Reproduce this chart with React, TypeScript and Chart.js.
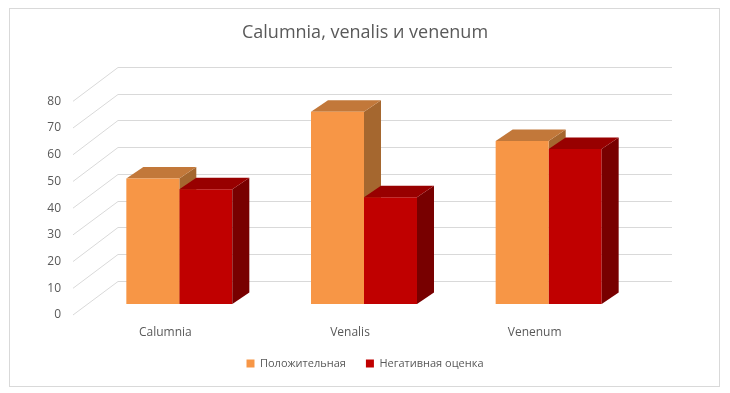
import React, { useEffect, useRef } from "react";
import { Chart, registerables } from "chart.js";

Chart.register(...registerables);

// ---- data ----
const categories = ["Calumnia", "Venalis", "Venenum"];
const seriesNames = ["Положительная", "Негативная оценка"];
const positiveValues = [47, 72, 61];
const negativeValues = [43, 40, 58];
const yMin = 0;
const yMax = 80;
const yStep = 10;
const titleText = "Calumnia, venalis и venenum";

// ---- style ----
const frontColors = ["#F79646", "#C00000"];
const topColors = ["#C2783A", "#980000"];
const sideColors = ["#A5672F", "#780000"];
const gridColor = "#D9D9D9";
const textColor = "#595959";
const BACK = { dx: 31, dy: -23.3 };
const DEPTH = { dx: 17, dy: -11.5 };
const FRONT = { dx: -14, dy: 11 };

function drawFaces(chart: any, dsIndex: number) {
  const ctx = chart.ctx;
  const meta = chart.getDatasetMeta(dsIndex);
  ctx.save();
  meta.data.forEach((el: any) => {
    const p = el.getProps(["x", "y", "base", "width"], true);
    const xl = p.x - p.width / 2;
    const xr = p.x + p.width / 2;
    const yt = p.y;
    const yb = p.base;
    // side face
    ctx.fillStyle = sideColors[dsIndex];
    ctx.beginPath();
    ctx.moveTo(xr, yt);
    ctx.lineTo(xr + DEPTH.dx, yt + DEPTH.dy);
    ctx.lineTo(xr + DEPTH.dx, yb + DEPTH.dy);
    ctx.lineTo(xr, yb);
    ctx.closePath();
    ctx.fill();
    // top face
    ctx.fillStyle = topColors[dsIndex];
    ctx.beginPath();
    ctx.moveTo(xl, yt);
    ctx.lineTo(xl + DEPTH.dx, yt + DEPTH.dy);
    ctx.lineTo(xr + DEPTH.dx, yt + DEPTH.dy);
    ctx.lineTo(xr, yt);
    ctx.closePath();
    ctx.fill();
  });
  ctx.restore();
}

const threeD = {
  id: "threeD",
  beforeDatasetsDraw(chart: any) {
    const { ctx, chartArea: a, scales } = chart;
    const y = scales.y;
    ctx.save();
    ctx.strokeStyle = gridColor;
    ctx.lineWidth = 1;
    y.ticks.forEach((t: any) => {
      const py = y.getPixelForValue(t.value);
      const by = Math.round(py + BACK.dy) + 0.5;
      ctx.beginPath();
      ctx.moveTo(a.left + FRONT.dx, py + FRONT.dy);
      ctx.lineTo(a.left + BACK.dx, by);
      ctx.lineTo(a.right + BACK.dx, by);
      ctx.stroke();
    });
    ctx.restore();
    drawFaces(chart, 0);
  },
  afterDatasetsDraw(chart: any) {
    drawFaces(chart, 1);
  },
};

export default function App() {
  const ref = useRef<HTMLCanvasElement>(null);
  useEffect(() => {
    if (!ref.current) return;
    Chart.defaults.font.family = "'Open Sans', 'Noto Sans', sans-serif";
    Chart.defaults.color = textColor;
    const chart = new Chart(ref.current, {
      type: "bar",
      data: {
        labels: categories,
        datasets: [
          {
            label: seriesNames[0],
            data: positiveValues,
            backgroundColor: frontColors[0],
            borderWidth: 0,
          },
          {
            label: seriesNames[1],
            data: negativeValues,
            backgroundColor: frontColors[1],
            borderWidth: 0,
          },
        ],
      },
      options: {
        responsive: false,
        animation: false,
        events: [],
        datasets: {
          bar: { categoryPercentage: 0.574, barPercentage: 1 },
        },
        layout: { padding: { left: 0, right: 0, top: 0, bottom: 14 } },
        plugins: {
          tooltip: { enabled: false },
          title: {
            display: true,
            text: titleText,
            color: textColor,
            font: { size: 18, weight: "normal" },
            padding: { top: 22.4, bottom: 46.3 },
          },
          legend: {
            display: true,
            position: "bottom",
            labels: {
              boxWidth: 8,
              boxHeight: 8,
              padding: 20,
              color: textColor,
              font: { size: 11 },
            },
          },
        },
        scales: {
          x: {
            grid: { display: false, drawTicks: false },
            border: { display: false },
            ticks: {
              color: textColor,
              font: { size: 12 },
              padding: 21,
              labelOffset: -14,
            },
            afterFit: (s: any) => {
              s.height = 34;
            },
          },
          y: {
            min: yMin,
            max: yMax,
            grid: { display: false, drawTicks: false },
            border: { display: false },
            ticks: {
              stepSize: yStep,
              color: textColor,
              font: { size: 12 },
              padding: 26,
              labelOffset: 11,
            },
            afterFit: (s: any) => {
              s.width = 87;
            },
          },
          yRight: {
            position: "right",
            display: true,
            grid: { display: false, drawTicks: false },
            border: { display: false },
            ticks: { display: false },
            afterFit: (s: any) => {
              s.width = 89;
            },
          },
        },
      },
      plugins: [threeD],
    } as any);
    return () => chart.destroy();
  }, []);

  return (
    <div
      style={{
        position: "absolute",
        left: 0,
        top: 0,
        width: 730,
        height: 393,
        background: "#fff",
      }}
    >
      <div
        style={{
          position: "absolute",
          left: 9,
          top: 8,
          width: 711,
          height: 379,
          border: "1px solid #D9D9D9",
          boxSizing: "border-box",
        }}
      />
      <canvas
        ref={ref}
        width={730}
        height={393}
        style={{ position: "absolute", left: 0, top: 0 }}
      />
    </div>
  );
}
